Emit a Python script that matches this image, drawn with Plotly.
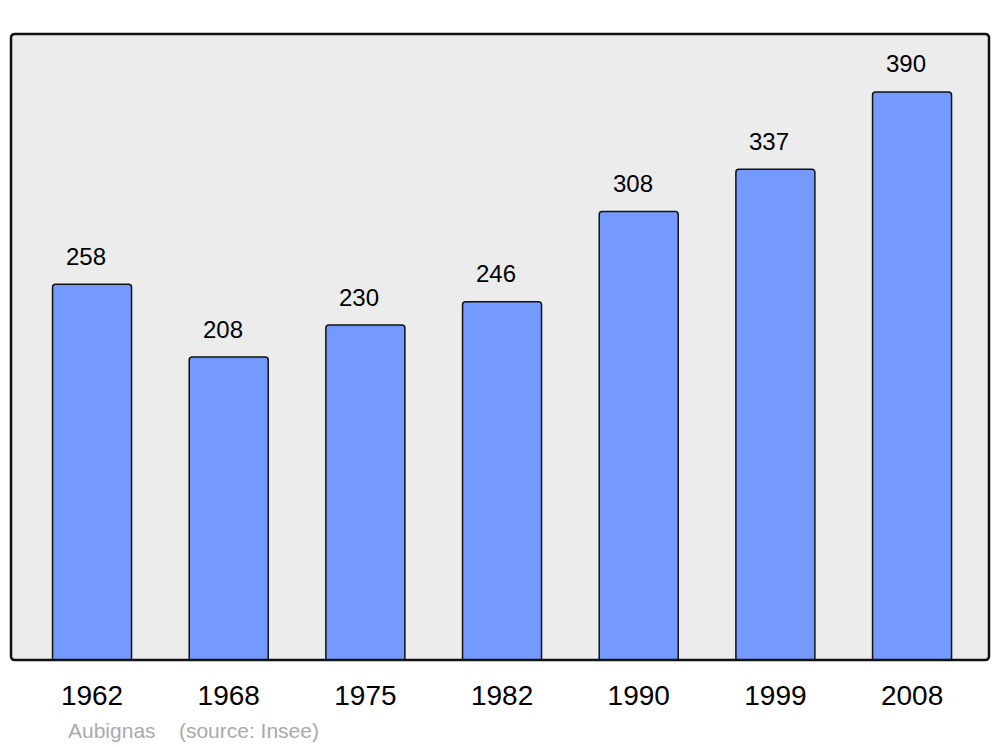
import plotly.graph_objects as go

years = ["1962", "1968", "1975", "1982", "1990", "1999", "2008"]
population = [258, 208, 230, 246, 308, 337, 390]
caption = "Aubignas\u00a0\u00a0\u00a0\u00a0(source: Insee)"

pos = list(range(len(years)))
FONT = "Liberation Sans, Arial, sans-serif"

fig = go.Figure()
fig.add_trace(go.Bar(
    x=pos, y=population, width=0.578,
    marker=dict(color="#7499ff", line=dict(color="#111111", width=1.5), cornerradius=3),
    hoverinfo="skip",
))

for i, v in zip(pos, population):
    fig.add_annotation(x=i, y=v, text=str(v), showarrow=False, xref="x", yref="y",
                       yanchor="middle", yshift=28, xshift=-6,
                       font=dict(family=FONT, size=24, color="#000"))

fig.add_annotation(x=0.0563, y=0, xref="paper", yref="paper", xanchor="left", yanchor="middle",
                   yshift=-70, text=caption, showarrow=False,
                   font=dict(family=FONT, size=21, color="#aaaaaa"))

# rounded frame around plot area
rx, ry = 4 / 978, 4 / 626
path = (f"M {rx},0 L {1-rx},0 Q 1,0 1,{ry} L 1,{1-ry} Q 1,1 {1-rx},1 "
        f"L {rx},1 Q 0,1 0,{1-ry} L 0,{ry} Q 0,0 {rx},0 Z")
fig.add_shape(type="path", xref="paper", yref="paper", path=path,
              line=dict(color="#111111", width=2.5), layer="above")

fig.update_layout(
    width=1000, height=747,
    margin=dict(l=11, r=11, t=34, b=87),
    paper_bgcolor="white", plot_bgcolor="#ececec",
    showlegend=False,
    xaxis=dict(range=[-0.593, 6.563], tickvals=pos, ticktext=years, showgrid=False,
               zeroline=False, ticks="", ticklabelstandoff=16,
               tickfont=dict(family=FONT, size=28, color="#000")),
    yaxis=dict(range=[0, 429.8], showgrid=False, zeroline=False, showticklabels=False, ticks=""),
)

fig.write_html("out.html", config={"displayModeBar": False},
               post_script="document.body.style.margin='0';document.body.style.overflow='hidden';")
